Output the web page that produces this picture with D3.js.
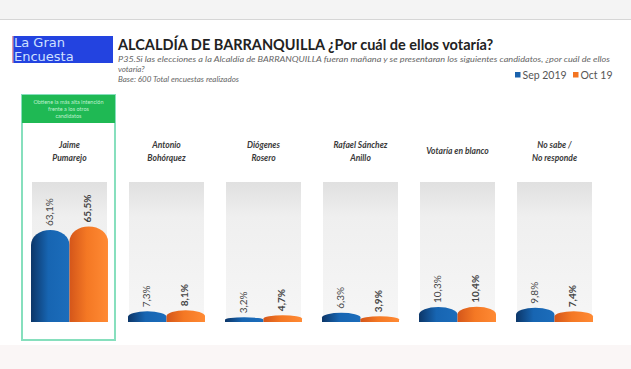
<!DOCTYPE html>
<html>
<head>
<meta charset="utf-8">
<script src="https://cdn.jsdelivr.net/npm/d3@7"></script>
<style>
  body { margin: 0; background: #fff; }
  svg { display: block; font-family: Lato, "Open Sans", sans-serif; }
</style>
</head>
<body>
<svg width="631" height="369"></svg>
<script>
// candidates (lines of each name)
const candidates = [
  ["Jaime", "Pumarejo"],
  ["Antonio", "Bohórquez"],
  ["Diógenes", "Rosero"],
  ["Rafael Sánchez", "Anillo"],
  ["Votaría en blanco"],
  ["No sabe /", "No responde"]
];
const series = ["Sep 2019", "Oct 19"];
const sep2019 = [63.1, 7.3, 3.2, 6.3, 10.3, 9.8];
const oct19 = [65.5, 8.1, 4.7, 3.9, 10.4, 7.4];
const colors = ["#1a62ad", "#f37421"];

const svg = d3.select("svg");
const W = 631, H = 369;
const baseline = 322;

// page background bands
svg.append("rect").attr("x", 0).attr("y", 0).attr("width", W).attr("height", 19).attr("fill", "#f4f4f4");
svg.append("line").attr("x1", 0).attr("x2", W).attr("y1", 19.5).attr("y2", 19.5).attr("stroke", "#d6d6d6");
svg.append("rect").attr("x", 0).attr("y", 345).attr("width", W).attr("height", H - 345).attr("fill", "#faf6f6");

// logo
svg.append("rect").attr("x", 12).attr("y", 36).attr("width", 101).attr("height", 27).attr("fill", "#2343e0");
svg.append("rect").attr("x", 12).attr("y", 36).attr("width", 1.5).attr("height", 27).attr("fill", "#e59aa8");
const logo = svg.append("text").attr("fill", "#cfe0ff").attr("font-size", 13).attr("font-family", "'DejaVu Sans', sans-serif");
logo.append("tspan").attr("x", 14).attr("y", 47).text("La Gran");
logo.append("tspan").attr("x", 14).attr("y", 60.5).text("Encuesta");

// title + subtitle
svg.append("text").attr("x", 118).attr("y", 50).attr("font-size", 14.5).attr("font-weight", "bold").attr("fill", "#222")
  .text("ALCALDÍA DE BARRANQUILLA ¿Por cuál de ellos votaría?");
const sub = svg.append("text").attr("font-size", 8).attr("font-style", "italic").attr("fill", "#666");
sub.append("tspan").attr("x", 118).attr("y", 62).attr("textLength", 492).attr("lengthAdjust", "spacingAndGlyphs")
  .text("P35.Si las elecciones a la Alcaldía de BARRANQUILLA fueran mañana y se presentaran los siguientes candidatos, ¿por cuál de ellos");
sub.append("tspan").attr("x", 118).attr("y", 71.5).text("votaría?");
sub.append("tspan").attr("x", 118).attr("y", 82).text("Base: 600 Total encuestas realizados");

// legend
const legendX = [515, 573];
series.forEach((s, i) => {
  svg.append("rect").attr("x", legendX[i]).attr("y", 72).attr("width", 5.5).attr("height", 5.5).attr("fill", colors[i]);
  svg.append("text").attr("x", legendX[i] + 7.5).attr("y", 78.5).attr("font-size", 10.5).attr("fill", "#555").text(s);
});

// scales
const x = d3.scaleBand().domain(d3.range(candidates.length)).range([32, 592]).paddingInner(0.227).paddingOuter(0);
const xs = d3.scaleBand().domain(series).range([-1, x.bandwidth() + 1]).padding(0);
const y = d3.scaleLinear().domain([0, 96]).range([baseline, 182]);

// gradients
const defs = svg.append("defs");
const pg = defs.append("linearGradient").attr("id", "panel").attr("x1", 0).attr("x2", 0).attr("y1", 0).attr("y2", 1);
pg.append("stop").attr("offset", "0%").attr("stop-color", "#e0e0e0");
pg.append("stop").attr("offset", "25%").attr("stop-color", "#efefef");
pg.append("stop").attr("offset", "100%").attr("stop-color", "#f6f6f6");
const grads = [
  ["#0c3668", "#1765b2", "#1c6dbb"],
  ["#d4561a", "#f47824", "#ff8a34"]
];
grads.forEach((g, i) => {
  const lg = defs.append("linearGradient").attr("id", "bar" + i).attr("x1", 0).attr("x2", 1).attr("y1", 0).attr("y2", 0);
  lg.append("stop").attr("offset", "0%").attr("stop-color", g[0]);
  lg.append("stop").attr("offset", "45%").attr("stop-color", g[1]);
  lg.append("stop").attr("offset", "100%").attr("stop-color", g[2]);
});

// highlight box for the leader
const hx0 = x(0) - 10, hx1 = x(0) + x.bandwidth() + 8;
svg.append("rect").attr("x", hx0).attr("y", 95).attr("width", hx1 - hx0).attr("height", 245)
  .attr("fill", "none").attr("stroke", "#86dfbd").attr("stroke-width", 2);
svg.append("rect").attr("x", hx0).attr("y", 95).attr("width", hx1 - hx0).attr("height", 28).attr("fill", "#1fb954");
const note = svg.append("text").attr("font-size", 5.5).attr("fill", "#bff0cf").attr("text-anchor", "middle");
["Obtiene la más alta intención", "frente a los otros", "candidatos"].forEach((t, i) => {
  note.append("tspan").attr("x", (hx0 + hx1) / 2).attr("y", 104 + i * 7).text(t);
});

// candidate columns
const cols = svg.selectAll(".col").data(candidates).enter().append("g")
  .attr("class", "col").attr("transform", (d, i) => `translate(${x(i)},0)`);

cols.append("rect").attr("x", 0).attr("y", y(96)).attr("width", x.bandwidth()).attr("height", baseline - y(96))
  .attr("fill", "url(#panel)");

cols.append("text").attr("text-anchor", "middle").attr("font-size", 8.5).attr("font-style", "italic")
  .attr("font-weight", "bold").attr("fill", "#3a3a3a")
  .each(function(d) {
    const t = d3.select(this);
    d.forEach((line, k) => {
      t.append("tspan").attr("x", x.bandwidth() / 2).attr("y", 154 - (d.length - 1) * 6.5 + k * 13).text(line);
    });
  });

function barPath(x0, w, v) {
  const top = y(v), h = baseline - top;
  const ry = Math.min(15, h * 0.5), rx = w / 2;
  return `M${x0},${baseline}L${x0},${top + ry}A${rx},${ry} 0 0 1 ${x0 + w},${top + ry}L${x0 + w},${baseline}Z`;
}

const values = [sep2019, oct19];
cols.each(function(d, i) {
  const g = d3.select(this);
  series.forEach((s, j) => {
    const v = values[j][i];
    g.append("path").attr("d", barPath(xs(s), xs.bandwidth(), v)).attr("fill", `url(#bar${j})`);
    const cx = xs(s) + xs.bandwidth() / 2;
    g.append("text").attr("transform", `translate(${cx},${y(v) - 4}) rotate(-90)`)
      .attr("dominant-baseline", "middle").attr("font-size", 10)
      .attr("font-weight", j === 1 ? "bold" : "normal").attr("fill", "#444")
      .text(d3.format(".1f")(v).replace(".", ",") + "%");
  });
});
</script>
</body>
</html>
